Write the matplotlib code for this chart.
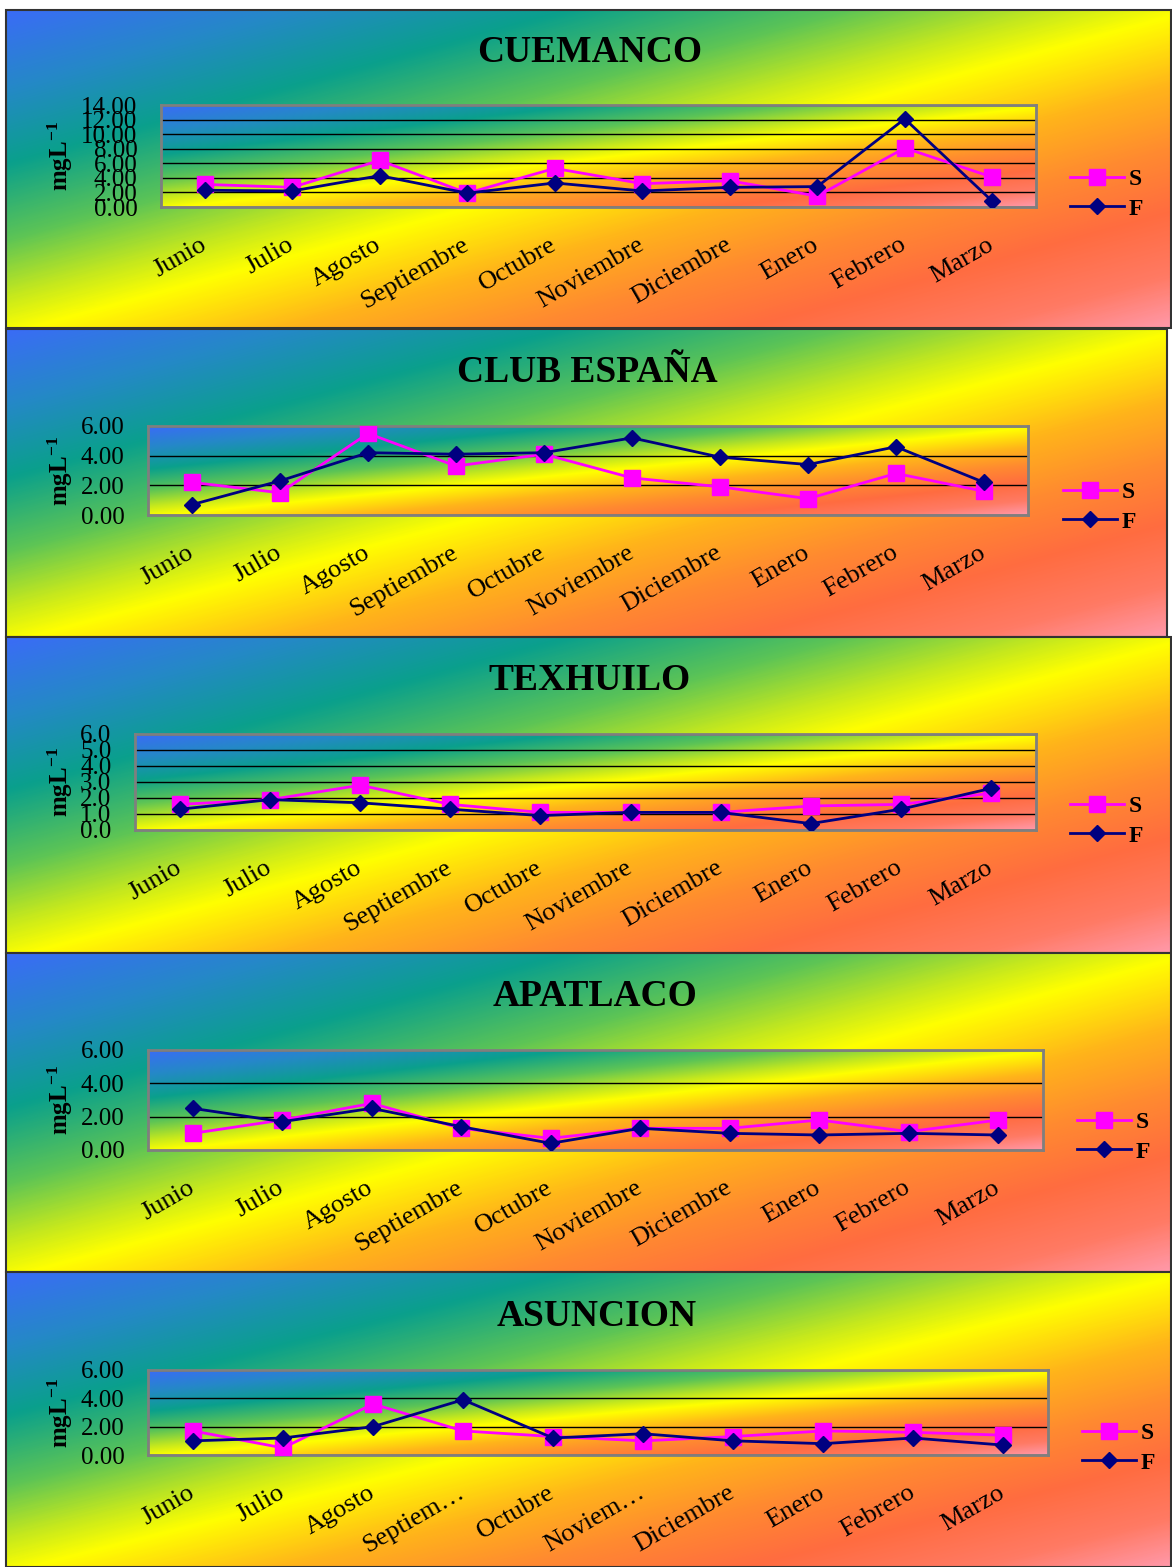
import numpy as np
import matplotlib
matplotlib.use('Agg')
import matplotlib.pyplot as plt
from matplotlib.colors import LinearSegmentedColormap
from matplotlib.patches import Rectangle

plt.rcParams['font.family'] = ['Liberation Serif', 'DejaVu Serif']
plt.rcParams['mathtext.fontset'] = 'custom'
plt.rcParams['mathtext.rm'] = 'Liberation Serif'
plt.rcParams['mathtext.bf'] = 'Liberation Serif:bold'

# datos: concentracion (mg/L) por mes, S = superficie, F = fondo
meses = ['Junio', 'Julio', 'Agosto', 'Septiembre', 'Octubre',
         'Noviembre', 'Diciembre', 'Enero', 'Febrero', 'Marzo']
meses_cortos = ['Junio', 'Julio', 'Agosto', 'Septiem…', 'Octubre',
                'Noviem…', 'Diciembre', 'Enero', 'Febrero', 'Marzo']

estaciones = ['CUEMANCO', 'CLUB ESPAÑA', 'TEXHUILO', 'APATLACO', 'ASUNCION']

cuemanco_s = [3.1, 2.7, 6.4, 1.9, 5.3, 3.2, 3.6, 1.5, 8.1, 4.1]
cuemanco_f = [2.3, 2.2, 4.3, 1.9, 3.3, 2.2, 2.7, 2.8, 12.1, 0.8]

club_s = [2.2, 1.5, 5.5, 3.3, 4.1, 2.5, 1.9, 1.1, 2.8, 1.6]
club_f = [0.7, 2.3, 4.2, 4.1, 4.2, 5.2, 3.9, 3.4, 4.6, 2.2]

texhuilo_s = [1.6, 1.9, 2.8, 1.6, 1.1, 1.1, 1.1, 1.5, 1.6, 2.3]
texhuilo_f = [1.3, 1.9, 1.7, 1.3, 0.9, 1.1, 1.1, 0.4, 1.3, 2.6]

apatlaco_s = [1.0, 1.8, 2.8, 1.3, 0.7, 1.3, 1.3, 1.8, 1.1, 1.8]
apatlaco_f = [2.5, 1.7, 2.5, 1.4, 0.4, 1.3, 1.0, 0.9, 1.0, 0.9]

asuncion_s = [1.7, 0.5, 3.6, 1.7, 1.3, 1.0, 1.3, 1.7, 1.6, 1.4]
asuncion_f = [1.0, 1.2, 2.0, 3.9, 1.2, 1.5, 1.0, 0.8, 1.2, 0.7]

serie_s = [cuemanco_s, club_s, texhuilo_s, apatlaco_s, asuncion_s]
serie_f = [cuemanco_f, club_f, texhuilo_f, apatlaco_f, asuncion_f]
etiquetas = [meses, meses, meses, meses, meses_cortos]

# escala del eje y: (maximo, paso, formato)
escalas = [(14, 2, '%.2f'), (6, 2, '%.2f'), (6, 1, '%.1f'), (6, 2, '%.2f'), (6, 2, '%.2f')]

W, H = 1172, 1567
# cajas en pixeles: x0, y0, x1, y1
paneles = [(6, 10, 1171, 328), (6, 329, 1167, 637), (6, 637, 1171, 953),
           (6, 953, 1171, 1272), (6, 1272, 1171, 1567)]
areas = [(161, 105, 1036, 207), (148, 426, 1028, 515), (135, 734, 1036, 830),
         (148, 1050, 1043, 1150), (148, 1370, 1048, 1455)]
titulos_xy = [(590, 52), (587, 372), (590, 680), (595, 996), (597, 1316)]
leyendas_xy = [(1070, 194), (1063, 507), (1070, 821), (1077, 1137), (1082, 1448)]

arcoiris = LinearSegmentedColormap.from_list('arcoiris', [
    (0.00, '#3a6cf6'), (0.12, '#2588c8'), (0.24, '#0aa08c'), (0.36, '#5cc456'),
    (0.45, '#c4e81e'), (0.51, '#ffff00'), (0.62, '#ffb41a'), (0.72, '#ff8a30'),
    (0.82, '#ff6c40'), (0.92, '#ff7a64'), (1.00, '#ff98a8')])


def gradiente(n=300):
    u, v = np.meshgrid(np.linspace(0, 1, n), np.linspace(0, 1, n))
    return (u + v) / 2


def caja(x0, y0, x1, y1):
    return [x0 / W, 1 - y1 / H, (x1 - x0) / W, (y1 - y0) / H]


def main():
    fig = plt.figure(figsize=(W / 100, H / 100), dpi=100)
    fig.patch.set_facecolor('white')
    g = gradiente()

    for i in range(5):
        # fondo del panel
        fondo = fig.add_axes(caja(*paneles[i]))
        fondo.imshow(g, cmap=arcoiris, aspect='auto', extent=(0, 1, 0, 1),
                     origin='upper', interpolation='bilinear')
        fondo.set_axis_off()
        fondo.add_patch(Rectangle((0, 0), 1, 1, transform=fondo.transAxes, fill=False,
                                  ec='#333333', lw=1.5, clip_on=False))

        ymax, paso, fmt = escalas[i]
        ax = fig.add_axes(caja(*areas[i]))
        ax.imshow(g, cmap=arcoiris, aspect='auto', extent=(-0.5, 9.5, 0, ymax),
                  origin='upper', interpolation='bilinear', zorder=0)
        x = np.arange(len(meses))
        ax.plot(x, serie_s[i], color='#ff00ff', lw=2, marker='s', ms=11,
                label='S', zorder=3)
        ax.plot(x, serie_f[i], color='#000080', lw=2, marker='D', ms=8,
                label='F', zorder=4)
        ax.set_xlim(-0.5, 9.5)
        ax.set_ylim(0, ymax)
        ticks = np.arange(0, ymax + paso / 2, paso)
        ax.set_yticks(ticks)
        ax.set_yticklabels([fmt % t for t in ticks])
        ax.yaxis.grid(True, color='black', lw=1)
        ax.set_axisbelow(True)
        ax.set_xticks(x)
        ax.set_xticklabels(etiquetas[i], rotation=30, ha='right', va='center',
                           rotation_mode='anchor')
        ax.tick_params(axis='x', length=0, pad=26, labelsize=19)
        ax.tick_params(axis='y', length=0, pad=17, labelsize=18)
        for s in ax.spines.values():
            s.set_color('#7f7f7f')
            s.set_linewidth(2)

        yc = (areas[i][1] + areas[i][3]) / 2
        fig.text(60 / W, 1 - yc / H, r'$\mathbf{mgL^{-1}}$', rotation=90,
                 ha='center', va='center', fontsize=18)

        tx, ty = titulos_xy[i]
        fig.text(tx / W, 1 - ty / H, estaciones[i], ha='center', va='center',
                 fontsize=27, fontweight='bold')

        lx, ly = leyendas_xy[i]
        ax.legend(loc='center left', bbox_to_anchor=(lx / W, 1 - ly / H),
                  bbox_transform=fig.transFigure, frameon=False,
                  prop={'weight': 'bold', 'size': 17}, handlelength=2.3,
                  handletextpad=0.2, borderpad=0, borderaxespad=0, labelspacing=0.35)

    fig.savefig('out.png', dpi=100, facecolor=fig.get_facecolor())


if __name__ == '__main__':
    main()
